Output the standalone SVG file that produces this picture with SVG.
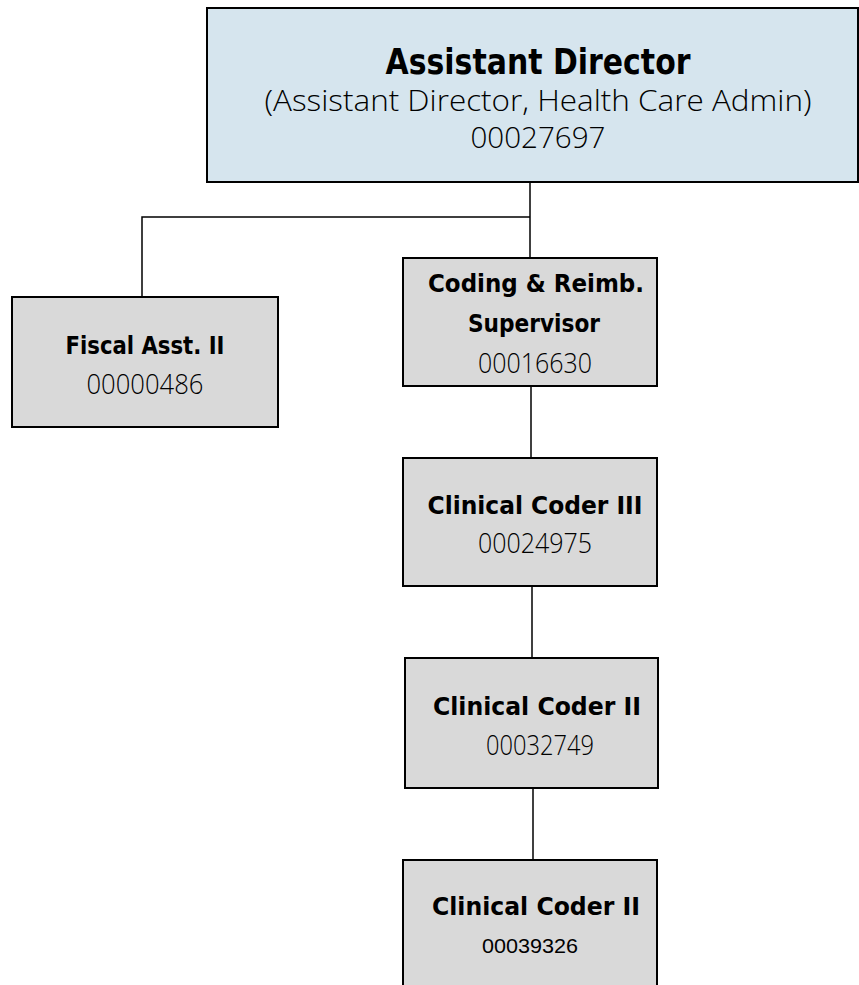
<svg xmlns="http://www.w3.org/2000/svg" width="859" height="985" viewBox="0 0 859 985">
<style>
.box{fill:#d9d9d9;stroke:#000;stroke-width:2}
.top{fill:#d6e5ee;stroke:#000;stroke-width:2}
.ln{stroke:#000;stroke-width:1.5;fill:none}
text{font-family:"DejaVu Sans","Liberation Sans",sans-serif;text-anchor:middle;fill:#000}
.t{font-weight:bold;font-size:24px}
.n{font-family:"Open Sans","DejaVu Sans",sans-serif;font-weight:300;font-size:27px}
.s{font-family:"Open Sans","DejaVu Sans",sans-serif;font-weight:300;font-size:29px}
</style>
<rect width="859" height="985" fill="#fff"/>
<g id="connectors">
<path class="ln" d="M530,182 V258"/>
<path class="ln" d="M530,217 H142 V297"/>
<path class="ln" d="M531,386 V458"/>
<path class="ln" d="M532,586 V658"/>
<path class="ln" d="M533,788 V860"/>
</g>
<g id="n-assistant-director">
<rect class="top" x="207" y="8" width="651" height="174"/>
<text x="538" y="74" style="font-weight:bold;font-size:36px" textLength="305" lengthAdjust="spacingAndGlyphs">Assistant Director</text>
<text class="s" x="538" y="111" textLength="547" lengthAdjust="spacingAndGlyphs">(Assistant Director, Health Care Admin)</text>
<text class="s" x="538" y="148" textLength="135" lengthAdjust="spacingAndGlyphs">00027697</text>
</g>
<g id="n-fiscal">
<rect class="box" x="12" y="297" width="266" height="130"/>
<text class="t" x="145" y="354" textLength="159" lengthAdjust="spacingAndGlyphs">Fiscal Asst. II</text>
<text class="n" x="145" y="394" textLength="117" lengthAdjust="spacingAndGlyphs">00000486</text>
</g>
<g id="n-coding">
<rect class="box" x="403" y="258" width="254" height="128"/>
<text class="t" x="536" y="292" textLength="216" lengthAdjust="spacingAndGlyphs">Coding &amp; Reimb.</text>
<text class="t" x="534" y="332" textLength="132" lengthAdjust="spacingAndGlyphs">Supervisor</text>
<text class="n" x="535" y="373" textLength="114" lengthAdjust="spacingAndGlyphs">00016630</text>
</g>
<g id="n-coder3">
<rect class="box" x="403" y="458" width="254" height="128"/>
<text class="t" x="535" y="514" textLength="215" lengthAdjust="spacingAndGlyphs">Clinical Coder III</text>
<text class="n" x="535" y="553" textLength="114" lengthAdjust="spacingAndGlyphs">00024975</text>
</g>
<g id="n-coder2a">
<rect class="box" x="405" y="658" width="253" height="130"/>
<text class="t" x="537" y="715" textLength="208" lengthAdjust="spacingAndGlyphs">Clinical Coder II</text>
<text class="n" x="540" y="755" textLength="108" lengthAdjust="spacingAndGlyphs">00032749</text>
</g>
<g id="n-coder2b">
<rect class="box" x="403" y="860" width="254" height="140"/>
<text class="t" x="536" y="915" textLength="208" lengthAdjust="spacingAndGlyphs">Clinical Coder II</text>
<text x="530" y="953" style="font-size:21px;font-family:'Liberation Sans',sans-serif" textLength="96" lengthAdjust="spacingAndGlyphs">00039326</text>
</g>
</svg>
